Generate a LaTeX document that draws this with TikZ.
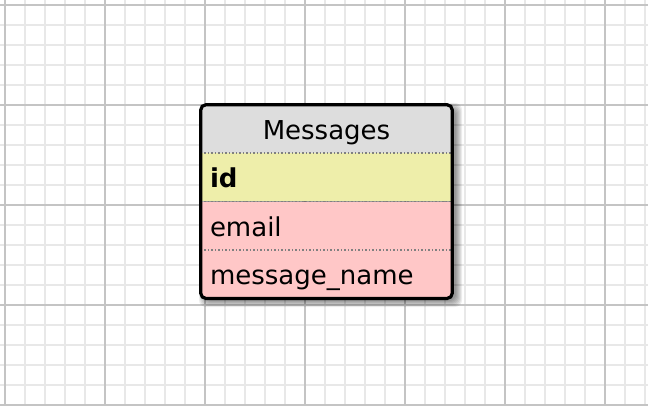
\documentclass[tikz,border=0pt]{standalone}
\usepackage{fontspec}
\setmainfont{DejaVu Sans}
\usetikzlibrary{positioning}

\definecolor{headgray}{HTML}{DDDDDD}
\definecolor{keyyellow}{HTML}{EEEEAA}
\definecolor{fieldpink}{HTML}{FFC7C7}
\definecolor{gridminor}{HTML}{E8E8E8}
\definecolor{gridmajor}{HTML}{C4C4C4}

\begin{document}
\begin{tikzpicture}[x=1pt, y=-1pt,
    minorline/.style={gridminor, line width=1.6pt},
    majorline/.style={gridmajor, line width=1.4pt},
    field/.style={minimum height=48pt, text width=233pt, inner xsep=9pt, inner ysep=0pt,
        text height=26pt, text depth=5pt, align=left, font=\fontsize{26}{31}\selectfont},
    header/.style={field, align=center, fill=headgray},
    sepline/.style={gray, line width=1.4pt, dash pattern=on 1.5pt off 2pt}]
    \useasboundingbox (0,0) rectangle (648,406);
    % background grid
    \foreach \x in {5,25,...,645} \draw[minorline] (\x,0) -- (\x,406);
    \foreach \y in {5,25,...,405} \draw[minorline] (0,\y) -- (648,\y);
    \foreach \x in {5,105,...,605} \draw[majorline] (\x,0) -- (\x,406);
    \foreach \y in {5,105,...,405} \draw[majorline] (0,\y) -- (648,\y);
    % shadow
    \foreach \g in {0,...,6}
        \fill[black, opacity=0.07, rounded corners=7pt] (205-\g,109-\g) rectangle (456+\g,301+\g);
    % table
    \begin{scope}
        \clip[rounded corners=5pt] (201,105) rectangle (452,297);
        \node[header] (head) at (326.5,129) {Messages};
        \node[field, fill=keyyellow, below=0pt of head] (id) {\textbf{id}};
        \node[field, fill=fieldpink, below=0pt of id] (email) {email};
        \node[field, fill=fieldpink, below=0pt of email] (msgname) {message\_name};
    \end{scope}
    \draw[sepline] (id.north west) -- (id.north east);
    \draw[sepline] (email.north west) -- (email.north east);
    \draw[sepline] (msgname.north west) -- (msgname.north east);
    \draw[line width=3.2pt, rounded corners=5pt] (head.north west) rectangle (msgname.south east);
\end{tikzpicture}
\end{document}
